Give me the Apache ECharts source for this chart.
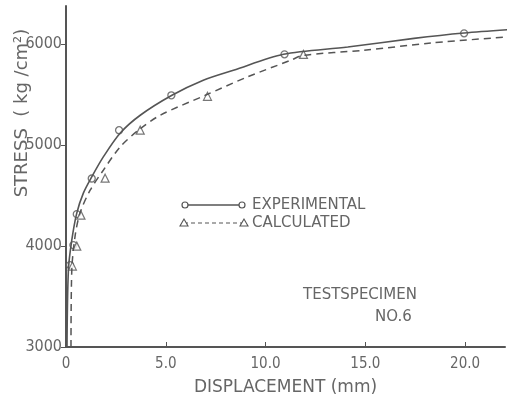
<!DOCTYPE html>
<html>
<head>
<meta charset="utf-8">
<script src="https://cdn.jsdelivr.net/npm/echarts@6/dist/echarts.min.js"></script>
<style>
  html, body { margin: 0; padding: 0; background: #fff; }
  #chart { width: 519px; height: 403px; }
</style>
</head>
<body>
<div id="chart"></div>
<script>
const expDisp = [0.2, 0.37, 0.54, 1.29, 2.66, 5.28, 10.95, 19.95]
const expStress = [3812, 4010, 4317, 4670, 5149, 5495, 5901, 6109]
const calcDisp = [0.32, 0.54, 0.75, 1.96, 3.72, 7.09, 11.9]
const calcStress = [3802, 4000, 4307, 4673, 5149, 5485, 5900]

// the drawn curves
const expCurveDisp = [0.05, 0.12, 0.29, 0.54, 0.87, 1.29, 1.87, 2.71, 3.72, 5.31, 6.88, 8.39, 10.9, 14.12, 17.44, 19.95, 22.46]
const expCurveStress = [3000, 3762, 4059, 4327, 4525, 4686, 4884, 5119, 5297, 5495, 5644, 5743, 5901, 5973, 6059, 6112, 6149]
const calcCurveDisp = [0.25, 0.29, 0.45, 0.70, 1.21, 1.87, 2.71, 3.63, 4.72, 6.98, 9.08, 11.26, 11.9, 14.92, 18.29, 22.46]
const calcCurveStress = [3000, 3762, 4092, 4327, 4554, 4752, 4983, 5149, 5297, 5495, 5676, 5842, 5891, 5941, 6013, 6079]

const xTicks = [0, 5, 10, 15, 20]
const yTicks = [3000, 4000, 5000, 6000]

const ink = '#555'
const textInk = '#666'
const narrow = '"DejaVu Sans Condensed", "Liberation Sans Narrow", "DejaVu Sans", sans-serif'
const wide = '"DejaVu Sans", sans-serif'

const pairs = (xs, ys) => xs.map((x, i) => [x, ys[i]])

const chart = echarts.init(document.getElementById('chart'))

chart.setOption({
  animation: false,
  grid: { left: 66, right: 14, top: 6, bottom: 56 },
  xAxis: {
    type: 'value', min: 0, max: 22,
    name: 'DISPLACEMENT (mm)',
    nameLocation: 'middle', nameGap: 32,
    nameTextStyle: { color: textInk, fontSize: 17, fontFamily: wide },
    axisLine: { lineStyle: { color: ink, width: 2 } },
    axisTick: { inside: true, length: 5, customValues: xTicks, lineStyle: { color: ink } },
    axisLabel: {
      customValues: xTicks, color: textInk, fontSize: 15, fontFamily: narrow, margin: 10,
      formatter: v => v === 0 ? '0' : v.toFixed(1)
    },
    splitLine: { show: false }
  },
  yAxis: {
    type: 'value', min: 3000, max: 6380,
    axisLine: { show: true, lineStyle: { color: ink, width: 2 } },
    axisTick: { show: true, length: 5, customValues: yTicks, lineStyle: { color: ink } },
    axisLabel: {
      customValues: yTicks, color: textInk, fontSize: 16, fontFamily: narrow, margin: 4,
      formatter: v => String(v)
    },
    splitLine: { show: false }
  },
  series: [
    {
      type: 'line', data: pairs(expCurveDisp, expCurveStress),
      showSymbol: false, smooth: 0.3, clip: false,
      lineStyle: { color: ink, width: 1.6 }
    },
    {
      type: 'line', data: pairs(calcCurveDisp, calcCurveStress),
      showSymbol: false, smooth: 0.3, clip: false,
      lineStyle: { color: ink, width: 1.5, type: [7, 5] }
    },
    {
      type: 'scatter', data: pairs(expDisp, expStress), symbol: 'circle', symbolSize: 7,
      itemStyle: { color: '#fff', borderColor: ink, borderWidth: 1.3 }
    },
    {
      type: 'scatter', data: pairs(calcDisp, calcStress), symbol: 'triangle', symbolSize: 8,
      itemStyle: { color: '#fff', borderColor: ink, borderWidth: 1.2 }
    }
  ],
  graphic: [
    {
      type: 'text', x: 22, y: 113, rotation: Math.PI / 2,
      style: {
        text: 'STRESS  ( kg /cm²)', fill: textInk, fontSize: 18,
        fontFamily: wide, align: 'center', verticalAlign: 'middle'
      }
    },
    // legend
    { type: 'line', shape: { x1: 185, y1: 205, x2: 242, y2: 205 }, style: { stroke: ink, lineWidth: 1.3 } },
    { type: 'circle', shape: { cx: 185, cy: 205, r: 3 }, style: { fill: '#fff', stroke: ink, lineWidth: 1.2 } },
    { type: 'circle', shape: { cx: 242, cy: 205, r: 3 }, style: { fill: '#fff', stroke: ink, lineWidth: 1.2 } },
    {
      type: 'text', x: 252, y: 205,
      style: { text: 'EXPERIMENTAL', fill: textInk, fontSize: 15, fontFamily: wide, verticalAlign: 'middle' }
    },
    { type: 'line', shape: { x1: 184, y1: 223, x2: 244, y2: 223 }, style: { stroke: ink, lineWidth: 1.2, lineDash: [4, 3] } },
    { type: 'polygon', shape: { points: [[184, 219], [180, 226], [188, 226]] }, style: { fill: '#fff', stroke: ink, lineWidth: 1.1 } },
    { type: 'polygon', shape: { points: [[244, 219], [240, 226], [248, 226]] }, style: { fill: '#fff', stroke: ink, lineWidth: 1.1 } },
    {
      type: 'text', x: 252, y: 223,
      style: { text: 'CALCULATED', fill: textInk, fontSize: 15, fontFamily: wide, verticalAlign: 'middle' }
    },
    {
      type: 'text', x: 303, y: 295,
      style: { text: 'TESTSPECIMEN', fill: textInk, fontSize: 15, fontFamily: wide, verticalAlign: 'middle' }
    },
    {
      type: 'text', x: 375, y: 317,
      style: { text: 'NO.6', fill: textInk, fontSize: 15, fontFamily: wide, verticalAlign: 'middle' }
    }
  ]
})
</script>
</body>
</html>
